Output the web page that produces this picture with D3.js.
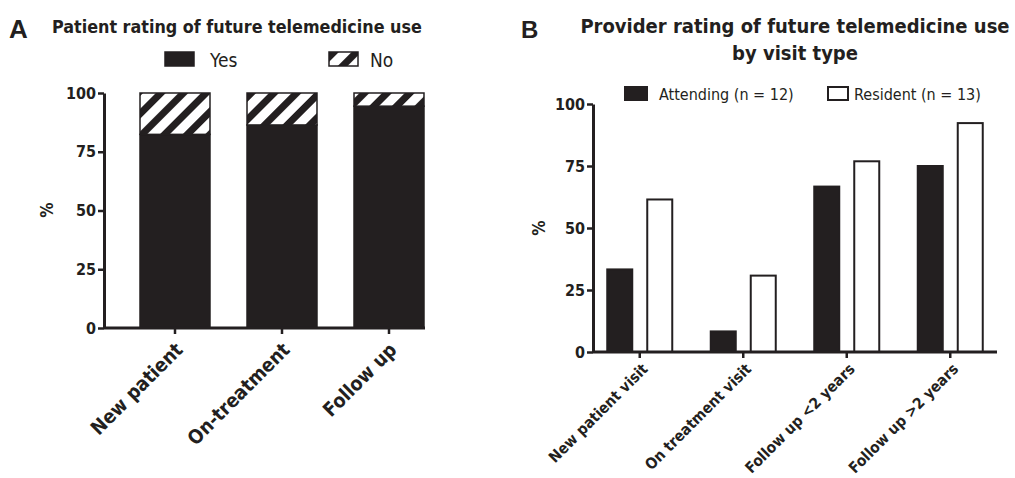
<!DOCTYPE html>
<html>
<head>
<meta charset="utf-8">
<script src="https://cdn.jsdelivr.net/npm/d3@7"></script>
<style>
  body { margin: 0; background: #fff; }
  svg text { font-family: "DejaVu Sans Condensed", "DejaVu Sans", sans-serif; font-stretch: condensed; fill: #231f20; }
  .bold { font-weight: bold; }
  .letter { font-family: "Liberation Sans", Arial, sans-serif; font-stretch: normal; font-weight: bold; }
</style>
</head>
<body>
<svg></svg>
<script>
/* data, panel A */
var patientVisits = ["New patient", "On-treatment", "Follow up"];
var patientYes = [82.4, 86.4, 94.4];
var patientSeries = ["Yes", "No"];

/* data, panel B */
var providerVisits = ["New patient visit", "On treatment visit", "Follow up <2 years", "Follow up >2 years"];
var attending = [33.3, 8.3, 66.7, 75.0];
var resident = [61.5, 30.8, 76.9, 92.3];
var providerSeries = ["Attending (n = 12)", "Resident (n = 13)"];

var yTicks = [0, 25, 50, 75, 100];

/* svg setting */
var svgWidth = 1015;
var svgHeight = 478;
var ink = "#231f20";

var svg = d3.select("svg")
    .attr("width", svgWidth)
    .attr("height", svgHeight);

var defs = svg.append("defs");
var hatch = defs.append("pattern")
    .attr("id", "hatch")
    .attr("patternUnits", "userSpaceOnUse")
    .attr("width", 16)
    .attr("height", 16)
    .attr("patternTransform", "rotate(45)");
hatch.append("rect").attr("width", 16).attr("height", 16).attr("fill", "#fff");
hatch.append("rect").attr("width", 7).attr("height", 16).attr("fill", ink);

drawPanelA();
drawPanelB();

function drawPanelA(){
  var x = d3.scaleBand()
      .domain(patientVisits)
      .range([121.5, 442.5])
      .paddingInner(0.346)
      .paddingOuter(0.173);
  var y = d3.scaleLinear().domain([0, 100]).range([328, 93]);

  var stacked = patientVisits.map(function(v, i){
    return {visit: v, Yes: patientYes[i], No: 100 - patientYes[i]};
  });
  var stack = d3.stack().keys(patientSeries)(stacked);

  var g = svg.append("g");
  g.selectAll("g.layer")
      .data(stack)
      .enter()
      .append("g")
      .attr("fill", function(d){ return d.key === "Yes" ? ink : "url(#hatch)"; })
      .selectAll("rect")
      .data(function(d){ return d; })
      .enter()
      .append("rect")
      .attr("x", function(d){ return x(d.data.visit); })
      .attr("y", function(d){ return y(d[1]); })
      .attr("width", x.bandwidth())
      .attr("height", function(d){ return y(d[0]) - y(d[1]); })
      .attr("stroke", ink)
      .attr("stroke-width", 1.5);

  drawYAxis(y, 104);

  var xa = svg.append("g")
      .attr("transform", translate(0, 328))
      .call(d3.axisBottom(x).tickSize(6).tickFormat(""));
  styleAxis(xa);
  xa.select(".domain").remove();
  xa.append("line").attr("x1", 104).attr("x2", 425).attr("stroke", ink).attr("stroke-width", 3);

  svg.append("g").selectAll("text")
      .data(patientVisits)
      .enter()
      .append("text")
      .attr("class", "bold")
      .attr("text-anchor", "end")
      .attr("font-size", 19.5)
      .attr("transform", function(d){ return translate(x(d) + x.bandwidth() / 2 + 9, 351) + " rotate(-45)"; })
      .text(function(d){ return d; });

  svg.append("text")
      .attr("class", "bold")
      .attr("font-size", 17)
      .attr("text-anchor", "middle")
      .attr("transform", translate(53, 210) + " rotate(-90)")
      .text("%");

  svg.append("text").attr("class", "letter").attr("x", 9).attr("y", 38).attr("font-size", 26).text("A");
  svg.append("text").attr("class", "bold").attr("x", 52).attr("y", 33).attr("font-size", 17.8)
      .text("Patient rating of future telemedicine use");

  /* legend */
  var legendX = [165, 329];
  var leg = svg.append("g").selectAll("g")
      .data(patientSeries)
      .enter()
      .append("g")
      .attr("transform", function(d, i){ return translate(legendX[i], 52); });
  leg.append("rect")
      .attr("width", 29)
      .attr("height", 14)
      .attr("fill", function(d){ return d === "Yes" ? ink : "url(#hatch)"; })
      .attr("stroke", ink)
      .attr("stroke-width", 1.5);
  leg.append("text")
      .attr("x", function(d, i){ return i === 0 ? 45 : 41; })
      .attr("y", 15)
      .attr("font-size", 19)
      .text(function(d){ return d; });
}

function drawPanelB(){
  var x = d3.scaleBand()
      .domain(providerVisits)
      .range([588, 1002]);
  var sub = d3.scaleBand()
      .domain(providerSeries)
      .range([-32.5, 32.5])
      .paddingInner(0.375);
  var y = d3.scaleLinear().domain([0, 100]).range([352, 104]);

  var rows = [];
  providerVisits.forEach(function(v, i){
    rows.push({visit: v, series: providerSeries[0], value: attending[i]});
    rows.push({visit: v, series: providerSeries[1], value: resident[i]});
  });

  svg.append("g").selectAll("rect")
      .data(rows)
      .enter()
      .append("rect")
      .attr("x", function(d){ return x(d.visit) + x.bandwidth() / 2 + sub(d.series); })
      .attr("y", function(d){ return y(d.value); })
      .attr("width", sub.bandwidth())
      .attr("height", function(d){ return y(0) - y(d.value); })
      .attr("fill", function(d){ return d.series === providerSeries[0] ? ink : "#fff"; })
      .attr("stroke", ink)
      .attr("stroke-width", 2);

  drawYAxis(y, 593);

  var xa = svg.append("g")
      .attr("transform", translate(0, 352))
      .call(d3.axisBottom(x).tickSize(6).tickFormat(""));
  styleAxis(xa);
  xa.select(".domain").remove();
  xa.append("line").attr("x1", 593).attr("x2", 997).attr("stroke", ink).attr("stroke-width", 3);

  svg.append("g").selectAll("text")
      .data(providerVisits)
      .enter()
      .append("text")
      .attr("class", "bold")
      .attr("text-anchor", "end")
      .attr("font-size", 15.3)
      .attr("transform", function(d){ return translate(x(d) + x.bandwidth() / 2 + 9, 370) + " rotate(-45)"; })
      .text(function(d){ return d; });

  svg.append("text")
      .attr("class", "bold")
      .attr("font-size", 17)
      .attr("text-anchor", "middle")
      .attr("transform", translate(545, 228) + " rotate(-90)")
      .text("%");

  svg.append("text").attr("class", "letter").attr("x", 521).attr("y", 38).attr("font-size", 24).text("B");
  var title = svg.append("text").attr("class", "bold").attr("text-anchor", "middle").attr("font-size", 20);
  title.append("tspan").attr("x", 795).attr("y", 33).text("Provider rating of future telemedicine use");
  title.append("tspan").attr("x", 795).attr("y", 60).text("by visit type");

  /* legend */
  var legendX = [625, 828];
  var leg = svg.append("g").selectAll("g")
      .data(providerSeries)
      .enter()
      .append("g")
      .attr("transform", function(d, i){ return translate(legendX[i], 87); });
  leg.append("rect")
      .attr("width", function(d, i){ return i === 0 ? 22 : 20; })
      .attr("height", 13)
      .attr("fill", function(d, i){ return i === 0 ? ink : "#fff"; })
      .attr("stroke", ink)
      .attr("stroke-width", 2);
  leg.append("text")
      .attr("x", function(d, i){ return i === 0 ? 34 : 26; })
      .attr("y", 13)
      .attr("font-size", 16)
      .text(function(d){ return d; });
}

function drawYAxis(y, xPos){
  var ya = svg.append("g")
      .attr("transform", translate(xPos, 0))
      .call(d3.axisLeft(y).tickValues(yTicks).tickSize(6).tickSizeOuter(0).tickPadding(2));
  styleAxis(ya);
  ya.selectAll("text").attr("class", "bold").attr("font-size", 16);
}

function styleAxis(a){
  a.select(".domain").attr("stroke", ink).attr("stroke-width", 3);
  a.selectAll(".tick line").attr("stroke", ink).attr("stroke-width", 2.5);
  a.attr("font-family", null).attr("font-size", null);
}

function translate(x, y) {
    return "translate(" + x + "," + y + ")";
}
</script>
</body>
</html>
